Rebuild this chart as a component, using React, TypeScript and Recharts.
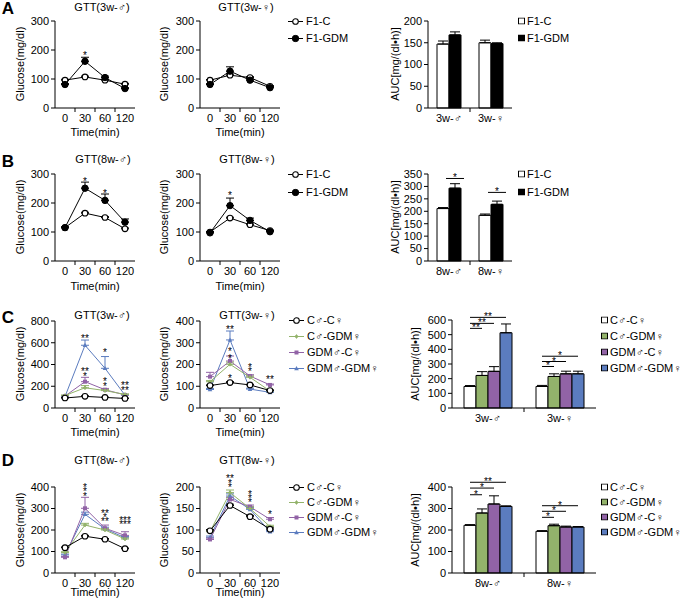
import React from 'react';
import { LineChart, Line, BarChart, Bar, XAxis, YAxis, ErrorBar, ReferenceDot, LabelList } from 'recharts';

const FONT = '"Liberation Sans", Arial, Helvetica, sans-serif';
const GREEN = '#93b36b';
const PURPLE = '#9163a6';
const BLUE = '#5b7cbf';

const TIMES = ['0', '30', '60', '120'];

// ---------- Panel A (lines) ----------
const A3M_C = [96, 107, 96, 82];
const A3M_C_E = [3, 3, 3, 3];
const A3M_G = [81, 161, 105, 67];
const A3M_G_E = [3, 14, 5, 3];
const A3F_C = [96, 113, 105, 75];
const A3F_C_E = [2, 4, 3, 2];
const A3F_G = [81, 127, 96, 70];
const A3F_G_E = [3, 15, 4, 3];
const A3M_NOTES = [{ t: '30', y: 188, s: '*' }];
const A3F_NOTES: { t: string; y: number; s: string }[] = [];

// ---------- Panel B (lines) ----------
const B8M_C = [115, 165, 150, 111];
const B8M_C_E = [2, 3, 3, 3];
const B8M_G = [115, 251, 209, 134];
const B8M_G_E = [3, 21, 22, 11];
const B8F_C = [100, 148, 125, 105];
const B8F_C_E = [2, 3, 3, 2];
const B8F_G = [97, 191, 140, 101];
const B8F_G_E = [3, 26, 8, 3];
const B8M_NOTES = [{ t: '30', y: 284, s: '*' }, { t: '60', y: 240, s: '*' }];
const B8F_NOTES = [{ t: '30', y: 234, s: '*' }];

// ---------- Panel C (lines) ----------
const C3M_CC = [92, 107, 97, 88];
const C3M_CC_E = [3, 5, 3, 3];
const C3M_CG = [115, 186, 160, 125];
const C3M_CG_E = [5, 20, 10, 5];
const C3M_GC = [110, 242, 168, 120];
const C3M_GC_E = [5, 40, 12, 5];
const C3M_GG = [105, 577, 365, 118];
const C3M_GG_E = [5, 48, 108, 5];
const C3M_NOTES = [
  { t: '30', y: 665, s: '**' }, { t: '30', y: 362, s: '**' }, { t: '30', y: 316, s: '*' },
  { t: '60', y: 534, s: '*' }, { t: '60', y: 265, s: '*' }, { t: '60', y: 222, s: '*' },
  { t: '120', y: 227, s: '**' }, { t: '120', y: 187, s: '**' },
];
const C3F_CC = [103, 117, 106, 80];
const C3F_CC_E = [3, 4, 3, 3];
const C3F_CG = [121, 201, 141, 78];
const C3F_CG_E = [5, 10, 6, 4];
const C3F_GC = [144, 216, 147, 106];
const C3F_GC_E = [20, 23, 6, 4];
const C3F_GG = [85, 313, 87, 72];
const C3F_GG_E = [5, 41, 4, 3];
const C3F_NOTES = [
  { t: '30', y: 371, s: '**' }, { t: '30', y: 270, s: '*' }, { t: '30', y: 239, s: '*' },
  { t: '30', y: 147, s: '*' }, { t: '60', y: 198, s: '*' }, { t: '60', y: 179, s: '*' },
  { t: '120', y: 141, s: '**' },
];

// ---------- Panel D (lines) ----------
const D8M_CC = [118, 171, 157, 113];
const D8M_CC_E = [3, 4, 3, 3];
const D8M_CG = [95, 223, 200, 158];
const D8M_CG_E = [4, 8, 6, 5];
const D8M_GC = [73, 301, 208, 175];
const D8M_GC_E = [4, 51, 15, 17];
const D8M_GG = [84, 273, 205, 164];
const D8M_GG_E = [4, 10, 8, 6];
const D8M_NOTES = [
  { t: '30', y: 410, s: '*' }, { t: '30', y: 390, s: '*' }, { t: '30', y: 368, s: '*' },
  { t: '60', y: 290, s: '**' }, { t: '60', y: 271, s: '*' }, { t: '60', y: 252, s: '**' },
  { t: '120', y: 258, s: '***' }, { t: '120', y: 238, s: '***' },
];
const D8F_CC = [98, 157, 131, 102];
const D8F_CC_E = [3, 3, 3, 3];
const D8F_CG = [96, 187, 150, 108];
const D8F_CG_E = [3, 6, 4, 3];
const D8F_GC = [78, 171, 154, 125];
const D8F_GC_E = [3, 5, 4, 4];
const D8F_GG = [83, 179, 148, 96];
const D8F_GG_E = [3, 5, 4, 3];
const D8F_NOTES = [
  { t: '30', y: 226, s: '**' }, { t: '30', y: 214, s: '*' }, { t: '30', y: 205, s: '*' },
  { t: '60', y: 189, s: '*' }, { t: '60', y: 179, s: '*' }, { t: '60', y: 170, s: '*' },
  { t: '120', y: 143, s: '*' },
];

// ---------- AUC bars ----------
const AUC_A_CATS = ['3w-♂', '3w-♀'];
const AUC_A_C = [147, 150];
const AUC_A_C_E = [7, 6];
const AUC_A_G = [168, 148];
const AUC_A_G_E = [7, 2];

const AUC_B_CATS = ['8w-♂', '8w-♀'];
const AUC_B_C = [211, 184];
const AUC_B_C_E = [4, 5];
const AUC_B_G = [293, 228];
const AUC_B_G_E = [18, 13];
const AUC_B_SIGS = [
  { cat: 0, from: 0.25, to: 1.75, y: 332, s: '*' },
  { cat: 1, from: 0.25, to: 1.75, y: 276, s: '*' },
];

const AUC_C_CATS = ['3w-♂', '3w-♀'];
const AUC_C_CC = [147, 147];
const AUC_C_CC_E = [6, 7];
const AUC_C_CG = [222, 215];
const AUC_C_CG_E = [26, 18];
const AUC_C_GC = [250, 233];
const AUC_C_GC_E = [32, 18];
const AUC_C_GG = [513, 233];
const AUC_C_GG_E = [60, 18];
const AUC_C_SIGS = [
  { cat: 0, from: 0, to: 1, y: 543, s: '**' },
  { cat: 0, from: 0, to: 2, y: 577, s: '**' },
  { cat: 0, from: 0, to: 3, y: 618, s: '**' },
  { cat: 1, from: 0, to: 1, y: 283, s: '*' },
  { cat: 1, from: 0, to: 2, y: 317, s: '*' },
  { cat: 1, from: 0, to: 3, y: 353, s: '*' },
];

const AUC_D_CATS = ['8w-♂', '8w-♀'];
const AUC_D_CC = [222, 194];
const AUC_D_CC_E = [3, 3];
const AUC_D_CG = [279, 220];
const AUC_D_CG_E = [19, 7];
const AUC_D_GC = [321, 214];
const AUC_D_GC_E = [38, 4];
const AUC_D_GG = [310, 214];
const AUC_D_GG_E = [2, 2];
const AUC_D_SIGS = [
  { cat: 0, from: 0, to: 1, y: 364, s: '*' },
  { cat: 0, from: 0, to: 2, y: 395, s: '*' },
  { cat: 0, from: 0, to: 3, y: 422, s: '**' },
  { cat: 1, from: 0, to: 1, y: 259, s: '*' },
  { cat: 1, from: 0, to: 2, y: 287, s: '*' },
  { cat: 1, from: 0, to: 3, y: 313, s: '*' },
];

const LEG2 = ['F1-C', 'F1-GDM'];
const LEG4 = ['C♂-C♀', 'C♂-GDM♀', 'GDM♂-C♀', 'GDM♂-GDM♀'];

// ---------- helpers ----------
type Kind = 'open' | 'filled' | 'plus' | 'square' | 'tri';
type Sig = { cat: number; from: number; to: number; y: number; s: string };

function Marker({ kind, color, cx, cy }: { kind: Kind; color: string; cx: number; cy: number }) {
  if (kind === 'open') return <circle cx={cx} cy={cy} r={2.8} fill="#fff" stroke="#000" strokeWidth={1.1} />;
  if (kind === 'filled') return <circle cx={cx} cy={cy} r={3.2} fill="#000" stroke="#000" strokeWidth={1} />;
  if (kind === 'square') return <rect x={cx - 2} y={cy - 2} width={4} height={4} fill={color} />;
  if (kind === 'tri') return <path d={`M${cx},${cy - 2.4}L${cx + 2.3},${cy + 1.8}L${cx - 2.3},${cy + 1.8}Z`} fill={color} />;
  return (
    <g stroke={color} strokeWidth={1}>
      <line x1={cx - 2} x2={cx + 2} y1={cy} y2={cy} />
      <line x1={cx} x2={cx} y1={cy - 2} y2={cy + 2} />
      <circle cx={cx} cy={cy} r={1.2} fill={color} />
    </g>
  );
}

const makeDot = (kind: Kind, color: string) => (p: any) => (
  <g key={`d-${p.index}`}>
    <Marker kind={kind} color={color} cx={p.cx} cy={p.cy} />
  </g>
);

const starLabel = (txt: string, dy: number) => (p: any) => {
  const vb = p.viewBox || { x: 0, y: 0, width: 0, height: 0 };
  return (
    <text x={vb.x + (vb.width || 0) / 2} y={vb.y + (vb.height || 0) / 2 + dy} textAnchor="middle" fontSize={10} fontFamily={FONT} fill="#000">
      {txt}
    </text>
  );
};

const Txt = ({ x, y, children, size = 11, anchor = 'middle', rot = false, bold = false }: any) => (
  <div
    style={{
      position: 'absolute', left: x, top: y,
      transform: `translate(${anchor === 'start' ? '0' : '-50%'}, -50%)${rot ? ' rotate(-90deg)' : ''}`,
      fontSize: size, fontFamily: FONT, whiteSpace: 'nowrap', lineHeight: 1,
      fontWeight: bold ? 'bold' : 'normal', color: '#000',
    }}
  >
    {children}
  </div>
);

type Series = { key: string; values: number[]; errs: number[]; color: string; kind: Kind };

function GttChart({ px, py, pw, ph, series, yMax, yTicks, notes }: {
  px: number; py: number; pw: number; ph: number; series: Series[]; yMax: number; yTicks: number[];
  notes: { t: string; y: number; s: string }[];
}) {
  const YW = 45, T = 22, R = 4, XH = 30;
  const data = TIMES.map((t, i) => {
    const row: any = { t };
    series.forEach((s) => {
      row[s.key] = s.values[i];
      row[s.key + '_e'] = [0, s.errs[i]];
    });
    return row;
  });
  const axisY = T + ph;
  const half = (pw - 20) / (TIMES.length - 1) / 2;
  const XTick = (p: any) => (
    <g>
      <text x={p.x} y={axisY + 10} textAnchor="middle" dominantBaseline="central" fontSize={11} fontFamily={FONT} fill="#000">
        {p.payload.value}
      </text>
      {p.index < TIMES.length - 1 && <line x1={p.x + half} x2={p.x + half} y1={axisY} y2={axisY + 4} stroke="#000" />}
    </g>
  );
  return (
    <div style={{ position: 'absolute', left: px - YW, top: py - T }}>
      <LineChart width={YW + pw + R} height={T + ph + XH} data={data} margin={{ top: T, right: R, bottom: 0, left: 0 }}>
        <XAxis dataKey="t" padding={{ left: 10, right: 10 }} tickLine={false} tick={XTick} interval={0} height={XH} axisLine={{ stroke: '#000' }} />
        <YAxis width={YW} domain={[0, yMax]} ticks={yTicks} interval={0} tickSize={4} tickMargin={2}
          axisLine={{ stroke: '#000' }} tickLine={{ stroke: '#000' }} tick={{ fontSize: 11, fill: '#000', fontFamily: FONT }} />
        {series.map((s) => (
          <Line key={s.key} dataKey={s.key} stroke={s.color} strokeWidth={1} dot={makeDot(s.kind, s.color)} activeDot={false} isAnimationActive={false}>
            <ErrorBar dataKey={s.key + '_e'} direction="y" width={4} stroke={s.color} strokeWidth={1} />
          </Line>
        ))}
        {notes.map((n, i) => (
          <ReferenceDot key={i} x={n.t} y={n.y} r={0} ifOverflow="visible" label={starLabel(n.s, 6)} />
        ))}
      </LineChart>
    </div>
  );
}

type BarSeries = { key: string; values: number[]; errs: number[]; fill: string };

// significance brackets drawn from the last bar of each group, using that bar's own geometry
const sigContent = (sigs: Sig[], n: number, values: number[]) => (p: any) => {
  const vb = p.viewBox || p;
  const idx = p.index;
  if (idx === undefined || idx === null) return null;
  const list = sigs.filter((s) => s.cat === idx);
  if (!list.length) return null;
  const x = Number(vb.x), w = Number(vb.width);
  const top = Math.min(Number(vb.y), Number(vb.y) + Number(vb.height));
  const h = Math.abs(Number(vb.height));
  const base = top + h;
  const k = h / values[idx];
  const cx = x + w / 2;
  return (
    <g>
      {list.map((s, i) => {
        const y = base - s.y * k;
        const x1 = cx + (s.from - (n - 1)) * w;
        const x2 = cx + (s.to - (n - 1)) * w;
        return (
          <g key={i}>
            <line x1={x1} x2={x2} y1={y} y2={y} stroke="#000" strokeWidth={1} />
            <text x={(x1 + x2) / 2} y={y + 3} textAnchor="middle" fontSize={10} fontFamily={FONT} fill="#000">{s.s}</text>
          </g>
        );
      })}
    </g>
  );
};

function AucChart({ px, py, pw, ph, cats, series, yMax, yTicks, barSize, sigs }: {
  px: number; py: number; pw: number; ph: number; cats: string[]; series: BarSeries[]; yMax: number; yTicks: number[];
  barSize: number; sigs: Sig[];
}) {
  const YW = 45, T = 22, R = 4, XH = 30;
  const data = cats.map((c, i) => {
    const row: any = { cat: c };
    series.forEach((s) => {
      row[s.key] = s.values[i];
      row[s.key + '_e'] = [0, s.errs[i]];
    });
    return row;
  });
  const axisY = T + ph;
  const band = pw / cats.length;
  const n = series.length;
  const XTick = (p: any) => (
    <g>
      <text x={p.x} y={axisY + 10} textAnchor="middle" dominantBaseline="central" fontSize={11} fontFamily={FONT} fill="#000">
        {p.payload.value}
      </text>
      {p.index < cats.length - 1 && <line x1={p.x + band / 2} x2={p.x + band / 2} y1={axisY} y2={axisY + 4} stroke="#000" />}
    </g>
  );
  return (
    <div style={{ position: 'absolute', left: px - YW, top: py - T }}>
      <BarChart width={YW + pw + R} height={T + ph + XH} data={data} barGap={0} barSize={barSize} margin={{ top: T, right: R, bottom: 0, left: 0 }}>
        <XAxis dataKey="cat" tickLine={false} tick={XTick} interval={0} height={XH} axisLine={{ stroke: '#000' }} />
        <YAxis width={YW} domain={[0, yMax]} ticks={yTicks} interval={0} tickSize={4} tickMargin={2}
          axisLine={{ stroke: '#000' }} tickLine={{ stroke: '#000' }} tick={{ fontSize: 11, fill: '#000', fontFamily: FONT }} />
        {series.map((s, si) => (
          <Bar key={s.key} dataKey={s.key} fill={s.fill} stroke="#000" strokeWidth={1} isAnimationActive={false}>
            <ErrorBar dataKey={s.key + '_e'} direction="y" width={5} stroke="#000" strokeWidth={1} />
            {si === n - 1 && sigs.length > 0 && <LabelList dataKey={s.key} content={sigContent(sigs, n, s.values)} />}
          </Bar>
        ))}
      </BarChart>
    </div>
  );
}

function LineLegend({ x, rows, labels, kinds, colors }: { x: number; rows: number[]; labels: string[]; kinds: Kind[]; colors: string[] }) {
  return (
    <>
      {labels.map((l, i) => (
        <div key={l} style={{ position: 'absolute', left: x, top: rows[i], transform: 'translateY(-50%)', display: 'flex', alignItems: 'center', fontFamily: FONT, fontSize: 11, lineHeight: 1, whiteSpace: 'nowrap' }}>
          <svg width={15} height={8} style={{ display: 'block' }}>
            <line x1={0} x2={15} y1={4} y2={4} stroke={colors[i]} strokeWidth={1} />
            <Marker kind={kinds[i]} color={colors[i]} cx={7.5} cy={4} />
          </svg>
          <span style={{ marginLeft: 3 }}>{l}</span>
        </div>
      ))}
    </>
  );
}

function BarLegend({ x, rows, labels, fills }: { x: number; rows: number[]; labels: string[]; fills: string[] }) {
  return (
    <>
      {labels.map((l, i) => (
        <div key={l} style={{ position: 'absolute', left: x, top: rows[i], transform: 'translateY(-50%)', display: 'flex', alignItems: 'center', fontFamily: FONT, fontSize: 11, lineHeight: 1, whiteSpace: 'nowrap' }}>
          <svg width={7} height={7} style={{ display: 'block' }}>
            <rect x={0.5} y={0.5} width={6} height={6} fill={fills[i]} stroke="#000" strokeWidth={1} />
          </svg>
          <span style={{ marginLeft: 2 }}>{l}</span>
        </div>
      ))}
    </>
  );
}

const s2 = (k1: string, v1: number[], e1: number[], k2: string, v2: number[], e2: number[]): Series[] => [
  { key: k1, values: v1, errs: e1, color: '#000', kind: 'open' },
  { key: k2, values: v2, errs: e2, color: '#000', kind: 'filled' },
];
const s4 = (v: number[][], e: number[][]): Series[] => [
  { key: 'cc', values: v[0], errs: e[0], color: '#000', kind: 'open' },
  { key: 'cg', values: v[1], errs: e[1], color: GREEN, kind: 'plus' },
  { key: 'gc', values: v[2], errs: e[2], color: PURPLE, kind: 'square' },
  { key: 'gg', values: v[3], errs: e[3], color: BLUE, kind: 'tri' },
];
const order4 = (s: Series[]) => [s[3], s[2], s[1], s[0]];

export default function App() {
  const t300 = [0, 100, 200, 300];
  const LX = 55, RX = 200, PW = 80;
  const kinds4: Kind[] = ['open', 'plus', 'square', 'tri'];
  const colors4 = ['#000', GREEN, PURPLE, BLUE];
  const fills4 = ['#fff', GREEN, PURPLE, BLUE];
  return (
    <div style={{ position: 'absolute', left: 0, top: 0, width: 685, height: 608, background: '#fff', fontFamily: FONT, overflow: 'hidden' }}>
      {/* ---------------- A ---------------- */}
      <Txt x={8} y={8} size={17} bold>A</Txt>
      <Txt x={102} y={7}>GTT(3w-♂)</Txt>
      <Txt x={246} y={7}>GTT(3w-♀)</Txt>
      <Txt x={20} y={64} rot>Glucose(mg/dl)</Txt>
      <Txt x={164} y={64} rot>Glucose(mg/dl)</Txt>
      <GttChart px={LX} py={21} pw={PW} ph={87} series={s2('c', A3M_C, A3M_C_E, 'g', A3M_G, A3M_G_E)} yMax={300} yTicks={t300} notes={A3M_NOTES} />
      <GttChart px={RX} py={21} pw={PW} ph={87} series={s2('c', A3F_C, A3F_C_E, 'g', A3F_G, A3F_G_E)} yMax={300} yTicks={t300} notes={A3F_NOTES} />
      <Txt x={95} y={132}>Time(min)</Txt>
      <Txt x={240} y={132}>Time(min)</Txt>
      <LineLegend x={288} rows={[21, 38]} labels={LEG2} kinds={['open', 'filled']} colors={['#000', '#000']} />
      <Txt x={395} y={64} rot>AUC[mg/(dl•h)]</Txt>
      <AucChart px={428} py={21} pw={84} ph={87} cats={AUC_A_CATS} barSize={12}
        series={[{ key: 'c', values: AUC_A_C, errs: AUC_A_C_E, fill: '#fff' }, { key: 'g', values: AUC_A_G, errs: AUC_A_G_E, fill: '#000' }]}
        yMax={200} yTicks={[0, 50, 100, 150, 200]} sigs={[]} />
      <BarLegend x={518} rows={[21, 38]} labels={LEG2} fills={['#fff', '#000']} />

      {/* ---------------- B ---------------- */}
      <Txt x={8} y={161} size={17} bold>B</Txt>
      <Txt x={103} y={159}>GTT(8w-♂)</Txt>
      <Txt x={247} y={159}>GTT(8w-♀)</Txt>
      <Txt x={20} y={217} rot>Glucose(mg/dl)</Txt>
      <Txt x={164} y={217} rot>Glucose(mg/dl)</Txt>
      <GttChart px={LX} py={174} pw={PW} ph={87} series={s2('c', B8M_C, B8M_C_E, 'g', B8M_G, B8M_G_E)} yMax={300} yTicks={t300} notes={B8M_NOTES} />
      <GttChart px={RX} py={174} pw={PW} ph={87} series={s2('c', B8F_C, B8F_C_E, 'g', B8F_G, B8F_G_E)} yMax={300} yTicks={t300} notes={B8F_NOTES} />
      <Txt x={95} y={286}>Time(min)</Txt>
      <Txt x={240} y={286}>Time(min)</Txt>
      <LineLegend x={288} rows={[174, 192]} labels={LEG2} kinds={['open', 'filled']} colors={['#000', '#000']} />
      <Txt x={395} y={217} rot>AUC[mg/(dl•h)]</Txt>
      <AucChart px={428} py={174} pw={84} ph={87} cats={AUC_B_CATS} barSize={12}
        series={[{ key: 'c', values: AUC_B_C, errs: AUC_B_C_E, fill: '#fff' }, { key: 'g', values: AUC_B_G, errs: AUC_B_G_E, fill: '#000' }]}
        yMax={350} yTicks={[0, 50, 100, 150, 200, 250, 300, 350]} sigs={AUC_B_SIGS} />
      <BarLegend x={518} rows={[174, 192]} labels={LEG2} fills={['#fff', '#000']} />

      {/* ---------------- C ---------------- */}
      <Txt x={8} y={317} size={17} bold>C</Txt>
      <Txt x={102} y={315}>GTT(3w-♂)</Txt>
      <Txt x={247} y={315}>GTT(3w-♀)</Txt>
      <Txt x={20} y={364} rot>Glucose(mg/dl)</Txt>
      <Txt x={164} y={364} rot>Glucose(mg/dl)</Txt>
      <GttChart px={LX} py={321} pw={PW} ph={87}
        series={order4(s4([C3M_CC, C3M_CG, C3M_GC, C3M_GG], [C3M_CC_E, C3M_CG_E, C3M_GC_E, C3M_GG_E]))}
        yMax={800} yTicks={[0, 200, 400, 600, 800]} notes={C3M_NOTES} />
      <GttChart px={RX} py={321} pw={PW} ph={87}
        series={order4(s4([C3F_CC, C3F_CG, C3F_GC, C3F_GG], [C3F_CC_E, C3F_CG_E, C3F_GC_E, C3F_GG_E]))}
        yMax={400} yTicks={[0, 100, 200, 300, 400]} notes={C3F_NOTES} />
      <Txt x={95} y={432}>Time(min)</Txt>
      <Txt x={240} y={432}>Time(min)</Txt>
      <LineLegend x={289} rows={[320, 336, 352, 368]} labels={LEG4} kinds={kinds4} colors={colors4} />
      <Txt x={415} y={364} rot>AUC[mg/(dl•h)]</Txt>
      <AucChart px={452} py={320} pw={144} ph={88} cats={AUC_C_CATS} barSize={12}
        series={[
          { key: 'cc', values: AUC_C_CC, errs: AUC_C_CC_E, fill: fills4[0] },
          { key: 'cg', values: AUC_C_CG, errs: AUC_C_CG_E, fill: fills4[1] },
          { key: 'gc', values: AUC_C_GC, errs: AUC_C_GC_E, fill: fills4[2] },
          { key: 'gg', values: AUC_C_GG, errs: AUC_C_GG_E, fill: fills4[3] },
        ]}
        yMax={600} yTicks={[0, 100, 200, 300, 400, 500, 600]} sigs={AUC_C_SIGS} />
      <BarLegend x={601} rows={[320, 336, 352, 368]} labels={LEG4} fills={fills4} />

      {/* ---------------- D ---------------- */}
      <Txt x={8} y={460} size={17} bold>D</Txt>
      <Txt x={102} y={460}>GTT(8w-♂)</Txt>
      <Txt x={247} y={460}>GTT(8w-♀)</Txt>
      <Txt x={20} y={530} rot>Glucose(mg/dl)</Txt>
      <Txt x={164} y={530} rot>Glucose(mg/dl)</Txt>
      <GttChart px={LX} py={487} pw={PW} ph={86}
        series={order4(s4([D8M_CC, D8M_CG, D8M_GC, D8M_GG], [D8M_CC_E, D8M_CG_E, D8M_GC_E, D8M_GG_E]))}
        yMax={400} yTicks={[0, 100, 200, 300, 400]} notes={D8M_NOTES} />
      <GttChart px={RX} py={487} pw={PW} ph={86}
        series={order4(s4([D8F_CC, D8F_CG, D8F_GC, D8F_GG], [D8F_CC_E, D8F_CG_E, D8F_GC_E, D8F_GG_E]))}
        yMax={200} yTicks={[0, 50, 100, 150, 200]} notes={D8F_NOTES} />
      <Txt x={95} y={592}>Time(min)</Txt>
      <Txt x={240} y={592}>Time(min)</Txt>
      <LineLegend x={289} rows={[487, 502, 517, 532]} labels={LEG4} kinds={kinds4} colors={colors4} />
      <Txt x={415} y={530} rot>AUC[mg/(dl•h)]</Txt>
      <AucChart px={452} py={487} pw={144} ph={86} cats={AUC_D_CATS} barSize={12}
        series={[
          { key: 'cc', values: AUC_D_CC, errs: AUC_D_CC_E, fill: fills4[0] },
          { key: 'cg', values: AUC_D_CG, errs: AUC_D_CG_E, fill: fills4[1] },
          { key: 'gc', values: AUC_D_GC, errs: AUC_D_GC_E, fill: fills4[2] },
          { key: 'gg', values: AUC_D_GG, errs: AUC_D_GG_E, fill: fills4[3] },
        ]}
        yMax={400} yTicks={[0, 100, 200, 300, 400]} sigs={AUC_D_SIGS} />
      <BarLegend x={601} rows={[487, 502, 517, 532]} labels={LEG4} fills={fills4} />
    </div>
  );
}
